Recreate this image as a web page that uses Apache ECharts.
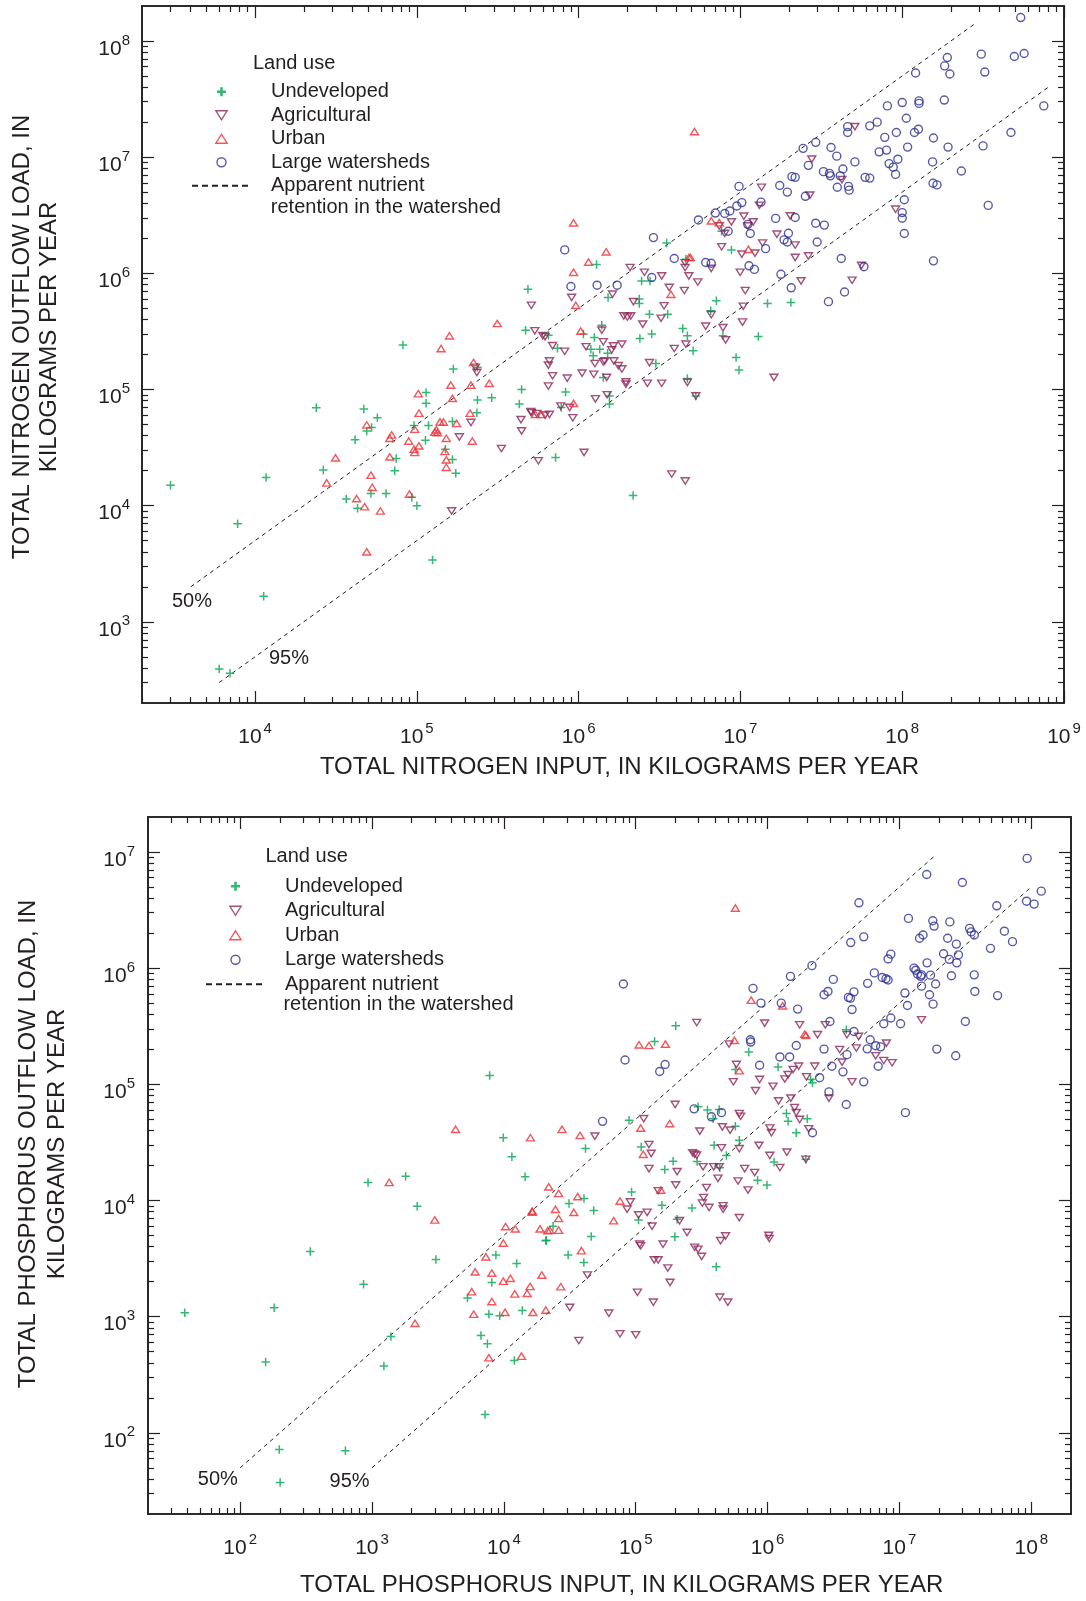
<!DOCTYPE html>
<html>
<head>
<meta charset="utf-8">
<script src="https://cdn.jsdelivr.net/npm/echarts@6/dist/echarts.min.js"></script>
<style>
  html, body { margin: 0; padding: 0; background: #fff; }
  #chart { width: 1086px; height: 1601px; }
</style>
</head>
<body>
<div id="chart"></div>
<script>
// ---------------- Nitrogen: [total input, total outflow load], kg per year ----------------
const nUndeveloped = [
  [3.0e3,1.5e4],[7.8e3,7.0e3],[1.17e4,1.75e4],[1.13e4,1.66e3],[6.0e3,392],[7.0e3,361],
  [2.39e4,6.95e4],[2.64e4,2.03e4],[4.7e4,6.8e4],[5.7e4,5.7e4],[5.25e4,4.7e4],[4.9e4,4.4e4],
  [4.15e4,3.7e4],[3.66e4,1.14e4],[4.3e4,9.5e3],[5.2e4,1.27e4],[6.45e4,1.27e4],[7.3e4,2.0e4],
  [7.45e4,2.55e4],[9.3e4,1.18e4],[1.0e5,1.0e4],[9.6e4,4.9e4],[1.14e5,9.4e4],[1.14e5,7.6e4],
  [1.18e5,4.9e4],[1.13e5,3.66e4],[1.25e5,3.4e3],[1.5e5,3.06e4],[1.66e5,2.5e4],[1.74e5,1.9e4],
  [1.66e5,5.3e4],[2.37e5,8.1e4],[2.35e5,6.3e4],[2.9e5,8.5e4],[4.44e5,1.0e5],[4.3e5,7.5e4],
  [8.2e4,2.42e5],[1.68e5,1.5e5],[2.37e5,1.55e5],[4.86e5,7.3e5],[4.7e5,3.24e5],[1.29e6,1.19e6],
  [6.5e5,2.93e5],[1.07e6,3.0e5],[1.39e6,3.57e5],[1.25e6,2.8e5],[1.19e6,2.22e5],[1.35e6,2.22e5],
  [1.51e6,2.05e5],[1.23e6,1.95e5],[1.42e6,1.27e5],[7.4e5,2.26e5],[8.3e5,9.5e4],[7.2e5,2.6e4],
  [7.8e5,7.0e4],[3.5e6,1.82e6],[7.65e6,2.3e6],[8.8e6,1.59e6],[2.45e6,8.6e5],[2.76e6,8.6e5],
  [1.52e6,6.2e5],[2.37e6,6.0e5],[2.37e6,5.5e5],[2.74e6,4.45e5],[3.55e6,4.45e5],[4.4e6,3.35e5],
  [4.7e6,2.9e5],[5.1e6,2.15e5],[2.83e6,3.0e5],[2.39e6,2.75e5],[3.0e6,1.67e5],[4.7e6,1.24e5],
  [5.3e6,8.8e4],[1.55e6,8.8e4],[1.55e6,7.5e4],[4.6e6,1.32e6],[1.47e7,5.5e5],[2.05e7,5.6e5],
  [1.29e7,2.86e5],[7.8e6,2.9e5],[9.4e6,1.88e5],[9.8e6,1.47e5],[7.1e6,5.8e5],[6.55e6,4.75e5],
  [2.17e6,1.22e4]
];
const nAgricultural = [
  [1.83e5,3.9e4],[2.16e5,5.2e4],[1.64e5,9.0e3],[3.33e5,3.1e4],[4.4e5,5.5e4],[4.44e5,4.4e4],
  [5.1e5,6.3e4],[5.64e5,2.43e4],[5.5e5,6.2e4],[6.2e5,6.0e4],[2.3e5,1.55e5],[2.35e5,1.4e5],
  [5.1e5,5.3e5],[5.36e5,3.2e5],[6.0e5,2.9e5],[6.2e5,2.85e5],[9.05e5,6.2e5],[1.39e6,3.24e5],
  [1.11e6,2.33e5],[1.42e6,2.57e5],[1.26e6,1.67e5],[1.42e6,1.73e5],[1.49e6,1.27e5],[1.24e6,1.35e5],
  [1.05e6,1.38e5],[6.9e5,2.38e5],[8.2e5,2.13e5],[6.6e5,1.76e5],[6.5e5,1.62e5],[6.9e5,1.31e5],
  [8.5e5,1.25e5],[6.5e5,1.07e5],[5.07e5,6.45e4],[6.6e5,6.1e4],[1.08e6,2.87e4],[7.75e5,7.2e4],
  [8.8e5,7.0e4],[9.2e5,5.7e4],[7.4e6,2.56e6],[8.8e6,2.77e6],[8.0e6,2.2e6],[1.35e7,5.5e6],
  [1.31e7,3.85e6],[1.05e7,3.1e6],[1.2e7,2.77e6],[1.11e7,2.56e6],[1.02e7,1.46e6],[1.23e7,1.49e6],
  [1.37e7,1.82e6],[7.65e6,1.69e6],[1.68e7,2.17e6],[2.18e7,1.75e6],[2.03e7,3.12e6],[2.18e7,1.37e6],
  [2.63e7,1.41e6],[2.69e7,4.7e6],[2.76e7,9.6e6],[4.24e7,6.4e6],[5.1e7,1.83e7],[5.6e7,1.17e6],
  [4.9e7,8.7e5],[2.37e7,8.6e5],[9.96e6,1.02e6],[1.07e7,7.1e5],[1.04e7,5.2e5],[1.03e7,3.8e5],
  [7.8e6,3.4e5],[8.1e6,2.67e5],[1.61e7,1.27e5],[6.6e6,4.4e5],[6.1e6,3.5e5],[4.5e6,7.1e5],
  [3.63e6,7.55e5],[4.8e6,9.5e5],[5.45e6,8.4e5],[4.55e6,1.23e6],[4.55e6,1.12e6],[6.6e6,1.1e6],
  [3.26e6,9.5e5],[2.55e6,1.02e6],[2.08e6,1.12e6],[1.62e6,6.6e5],[2.18e6,5.7e5],[3.37e6,5.25e5],
  [3.23e6,4.1e5],[1.9e6,4.3e5],[2.0e6,4.2e5],[2.1e6,4.3e5],[2.49e6,3.65e5],[4.6e6,2.45e5],
  [3.9e6,2.25e5],[1.85e6,2.45e5],[1.64e6,2.37e5],[1.6e6,2.19e5],[2.74e6,1.7e5],[1.85e6,1.5e5],
  [1.76e6,1.6e5],[1.45e6,1.76e5],[1.65e6,1.76e5],[1.96e6,1.16e5],[1.96e6,1.11e5],[2.66e6,1.13e5],
  [3.26e6,1.13e5],[4.7e6,1.15e5],[5.3e6,8.8e4],[1.5e6,9.0e4],[1.27e6,8.3e4],[3.76e6,1.87e4],
  [4.56e6,1.63e4],[9.1e7,3.56e6]
];
const nUrban = [
  [3.14e4,2.58e4],[2.77e4,1.57e4],[4.9e4,4.95e4],[6.98e4,4.06e4],[6.8e4,3.8e4],[8.9e4,3.6e4],
  [6.8e4,2.63e4],[1.02e5,9.2e4],[1.03e5,6.25e4],[9.7e4,4.55e4],[9.6e4,3.06e4],[9.7e4,2.87e4],
  [1.03e5,3.27e4],[4.24e4,1.15e4],[4.75e4,9.8e3],[5.95e4,9.0e3],[5.2e4,1.83e4],[5.3e4,1.44e4],
  [4.9e4,4.0e3],[9.0e4,1.26e4],[1.32e5,4.5e4],[1.39e5,5.26e4],[1.46e5,5.25e4],[1.29e5,4.3e4],
  [1.34e5,4.26e4],[1.52e5,3.8e4],[1.49e5,2.93e4],[1.52e5,2.48e4],[1.52e5,2.14e4],[1.62e5,1.09e5],
  [1.66e5,8.4e4],[1.76e5,5.1e4],[2.16e5,1.09e5],[2.13e5,6.25e4],[2.2e5,3.6e4],[2.8e5,1.13e5],
  [1.59e5,2.9e5],[1.41e5,2.25e5],[2.24e5,1.71e5],[3.14e5,3.7e5],[9.3e5,2.72e6],[1.48e6,1.53e6],
  [1.15e6,1.25e6],[9.3e5,1.02e6],[9.6e5,5.3e5],[1.03e6,3.18e5],[5.4e5,6.1e4],[5.9e5,6.1e4],
  [9.3e5,7.6e4],[5.2e6,1.66e7],[6.6e6,2.83e6],[7.4e6,2.73e6],[1.12e7,1.61e6],[3.72e6,6.6e5],
  [4.8e6,1.37e6],[4.9e6,1.37e6]
];
const nLargeWatersheds = [
  [8.2e5,1.59e6],[8.96e5,7.7e5],[1.3e6,7.9e5],[2.9e6,2.03e6],[5.5e6,2.88e6],[7.0e6,3.3e6],
  [8.0e6,3.27e6],[8.6e6,3.44e6],[8.4e6,2.3e6],[9.5e6,3.8e6],[1.02e7,4.06e6],[9.8e6,5.6e6],
  [1.34e7,4.1e6],[1.11e7,2.64e6],[1.15e7,2.2e6],[1.43e7,1.63e6],[1.65e7,2.97e6],[1.98e7,2.21e6],
  [1.86e7,1.94e6],[1.95e7,1.86e6],[2.18e7,3.02e6],[2.98e7,1.86e6],[2.92e7,2.7e6],[3.3e7,2.6e6],
  [1.75e7,5.7e6],[1.95e7,5.0e6],[2.08e7,6.8e6],[2.18e7,6.7e6],[2.52e7,4.6e6],[2.44e7,1.19e7],
  [2.92e7,1.34e7],[2.63e7,8.5e6],[3.63e7,1.21e7],[3.94e7,1.02e7],[3.26e7,7.5e6],[3.55e7,7.25e6],
  [3.6e7,6.9e6],[4.3e7,7.9e6],[5.1e7,9.1e6],[4.65e7,5.6e6],[4.7e7,5.2e6],[3.97e7,5.5e6],
  [4.6e7,1.83e7],[4.6e7,1.63e7],[6.3e7,1.86e7],[7.0e7,2.0e7],[7.2e7,1.11e7],[5.9e7,6.7e6],
  [6.3e7,6.6e6],[4.2e7,1.34e6],[5.8e7,1.14e6],[4.4e7,6.9e5],[3.5e7,5.7e5],[2.06e7,7.5e5],
  [1.78e7,9.8e5],[1.13e7,1.16e6],[1.22e7,1.08e6],[6.1e6,1.24e6],[6.6e6,1.22e6],[3.9e6,1.34e6],
  [2.83e6,9.2e5],[1.73e6,7.9e5],[4.14e7,6.9e6],[5.4e8,1.59e8],[3.08e8,7.7e7],[4.93e8,7.35e7],
  [5.67e8,7.8e7],[1.9e8,7.2e7],[1.83e8,6.1e7],[1.97e8,5.2e7],[3.24e8,5.4e7],[1.21e8,5.3e7],
  [7.5e8,2.76e7],[1.82e8,3.1e7],[1.0e8,2.95e7],[1.27e8,3.05e7],[1.27e8,2.9e7],[8.1e7,2.76e7],
  [1.06e8,2.16e7],[9.2e7,1.63e7],[1.26e8,1.74e7],[1.19e8,1.63e7],[7.8e7,1.48e7],[1.56e8,1.46e7],
  [4.7e8,1.63e7],[1.08e8,1.22e7],[8.0e7,1.15e7],[1.92e8,1.22e7],[3.16e8,1.25e7],[9.4e7,9.6e6],
  [1.54e8,9.1e6],[8.3e7,8.8e6],[8.8e7,8.2e6],[9.1e7,7.1e6],[2.32e8,7.6e6],[1.55e8,5.96e6],
  [1.64e8,5.77e6],[3.4e8,3.84e6],[1.03e8,4.3e6],[1.0e8,3.33e6],[1.0e8,2.98e6],[1.03e8,2.2e6],
  [1.56e8,1.28e6]
];
// Apparent retention lines: outflow = 50 % and 5 % of input
const nRetention50 = [[4.0e3, 2.0e3], [2.8e8, 1.4e8]];
const nRetention95 = [[6.0e3, 3.0e2], [8.0e8, 4.0e7]];

// ---------------- Phosphorus: [total input, total outflow load], kg per year ----------------
const pUndeveloped = [
  [38,1.08e3],[181,1.19e3],[156,406],[340,3.64e3],[862,1.9e3],[2.2e3,8.9e3],[3.05e3,3.1e3],
  [1.39e3,673],[1.23e3,375],[198,72],[201,37.4],[628,70],[7.2e3,144],[5.3e3,1.45e3],
  [8.7e3,3.39e3],[8.1e3,1.97e3],[7.7e3,1.05e3],[9.3e3,1.02e3],[6.7e3,687],[7.5e3,583],
  [1.2e4,419],[1.25e4,2.87e3],[1.38e4,1.13e3],[2.08e4,4.5e3],[933,1.43e4],[1.8e3,1.62e4],
  [7.8e3,1.19e5],[9.9e3,3.47e4],[1.15e4,2.38e4],[1.45e4,1.6e4],[2.01e5,3.19e5],[1.39e5,2.34e5],
  [2.97e5,6.4e4],[8.9e4,4.9e4],[4.16e4,2.8e4],[1.1e5,2.88e4],[1.66e5,1.85e4],[1.92e5,2.18e4],
  [2.92e5,2.16e4],[4.05e4,1.04e4],[3.12e4,9.4e3],[4.8e4,8.2e3],[9.3e4,1.18e4],[1.58e5,9.1e3],
  [1.05e5,6.8e3],[2.06e5,6.9e3],[2.67e5,8.6e3],[2.36e4,6.0e3],[2.1e4,4.55e3],[4.6e4,4.9e3],
  [1.98e5,4.86e3],[3.07e4,3.4e3],[4.04e4,2.93e3],[4.08e5,2.69e3],[3.95e6,2.95e5],[5.7e5,1.34e5],
  [7.2e5,1.9e5],[1.2e6,1.41e5],[2.19e6,1.03e5],[2.12e6,1.1e5],[3.5e5,6.0e4],[4.3e5,6.07e4],
  [3.86e5,5.05e4],[1.39e6,5.6e4],[1.43e6,4.8e4],[2.0e6,5.05e4],[1.65e6,3.83e4],[5.7e5,4.36e4],
  [6.1e5,3.3e4],[3.93e5,2.99e4],[4.87e5,2.44e4],[1.95e6,2.26e4],[1.12e6,2.14e4],[4.34e5,1.91e4],
  [8.4e5,1.49e4],[9.9e5,1.36e4]
];
const pAgricultural = [
  [2.9e5,3.4e5],[1.99e5,6.7e4],[1.15e5,5.05e4],[4.9e4,3.58e4],[1.26e5,3.03e4],[1.31e5,2.54e4],
  [1.26e5,1.88e4],[2.06e5,1.77e4],[2.01e5,1.36e4],[2.7e5,2.57e4],[2.8e5,2.5e4],[2.9e5,2.45e4],
  [9.1e4,9.7e3],[8.6e4,8.4e3],[1.48e5,1.21e4],[1.05e5,7.5e3],[1.22e5,7.9e3],[1.33e5,6.0e3],
  [1.61e5,4.2e3],[1.07e5,4.2e3],[1.09e5,4.07e3],[2.45e5,5.3e3],[2.8e5,3.95e3],[2.97e5,3.8e3],
  [4.3e4,2.28e3],[1.38e5,3.08e3],[1.48e5,3.08e3],[1.75e5,2.62e3],[1.82e5,1.97e3],[1.03e5,1.62e3],
  [1.36e5,1.33e3],[3.16e4,1.2e3],[6.25e4,1.07e3],[1.02e6,5.0e3],[1.03e6,4.7e3],[6.1e5,7.1e3],
  [4.8e5,4.95e3],[4.4e5,4.5e3],[4.6e5,9.0e3],[4.6e5,8.4e3],[3.6e5,8.7e3],[3.2e5,9.5e3],
  [2.15e5,6.7e3],[3.16e5,3.3e3],[4.34e5,1.47e3],[4.99e5,1.33e3],[7.6e4,711],[1.0e5,697],
  [3.7e4,622],[9.5e5,3.36e5],[1.75e6,3.25e5],[2.74e6,3.25e5],[2.39e6,2.67e5],[4.0e6,2.67e5],
  [4.9e6,2.58e5],[4.71e6,2.05e5],[7.96e6,2.26e5],[6.6e6,1.76e5],[7.6e6,1.6e5],[8.8e6,1.53e5],
  [3.67e6,1.55e5],[3.52e6,1.99e5],[1.97e6,1.16e5],[4.37e6,1.05e5],[2.92e6,7.6e4],[1.1e6,9.6e4],
  [8.7e5,1.1e5],[8.1e5,8.8e4],[5.5e5,1.05e5],[5.8e5,1.48e5],[5.1e5,2.22e5],[1.35e6,1.11e5],
  [1.43e6,1.21e5],[1.56e6,1.34e5],[1.72e6,1.43e5],[2.28e6,1.43e5],[1.21e6,7.2e4],[1.5e6,7.6e4],
  [1.6e6,6.3e4],[1.65e6,5.7e4],[1.75e6,4.98e4],[2.05e6,4.14e4],[1.04e6,4.2e4],[1.07e6,3.83e4],
  [6.1e5,5.6e4],[6.25e5,5.3e4],[3.06e5,3.95e4],[4.54e5,4.3e4],[5.2e5,4.03e4],[4.47e5,2.84e4],
  [6.1e5,2.79e4],[8.6e5,2.98e4],[1.04e6,2.44e4],[1.4e6,2.6e4],[1.95e6,2.26e4],[1.24e6,1.92e4],
  [3.24e5,1.95e4],[3.9e5,1.95e4],[4.3e5,1.95e4],[6.7e5,1.88e4],[5.97e5,1.47e4],[7.1e5,1.23e4],
  [7.98e5,1.74e4],[4.2e5,1.55e4],[3.44e5,1.29e4],[3.27e5,1.06e4],[1.47e7,3.59e5]
];
const pUrban = [
  [2.99e3,6.8e3],[2.12e3,877],[5.7e3,1.64e3],[5.9e3,1.05e3],[6.05e3,2.43e3],[7.3e3,3.27e3],
  [8.1e3,2.37e3],[8.1e3,1.35e3],[7.7e3,443],[1.36e4,457],[9.9e3,2.02e3],[1.12e4,2.14e3],
  [9.9e3,4.3e3],[1.03e4,5.97e3],[1.22e4,5.7e3],[1.64e4,7.96e3],[1.21e4,1.57e3],[1.02e4,1.09e3],
  [1.5e4,1.59e3],[1.58e4,1.82e3],[1.94e4,2.28e3],[1.66e4,1.09e3],[1.88e4,5.7e3],[2.15e4,5.5e3],
  [2.08e4,1.14e3],[1.35e3,1.43e4],[1.06e5,2.19e5],[1.26e5,2.16e5],[1.68e5,2.22e5],[1.09e5,4.2e4],
  [1.81e5,4.6e4],[4.3e3,4.1e4],[1.59e4,3.47e4],[2.76e4,4.1e4],[3.78e4,3.63e4],[1.14e5,2.5e4],
  [2.19e4,1.31e4],[2.6e4,1.15e4],[3.63e4,1.08e4],[1.64e4,8.1e3],[2.46e4,8.4e3],[3.39e4,7.9e3],
  [2.6e4,7.0e3],[7.6e4,9.9e3],[1.55e5,1.23e4],[6.8e4,6.7e3],[2.23e4,5.55e3],[2.6e4,5.55e3],
  [3.87e4,3.7e3],[2.7e4,1.81e3],[5.7e5,3.29e6],[7.5e5,5.3e5],[1.3e6,4.74e5],[1.91e6,2.7e5],
  [1.95e6,2.64e5],[5.6e5,2.39e5],[6.1e5,1.31e5]
];
const pLargeWatersheds = [
  [8.3e4,1.62e5],[1.67e5,1.48e5],[1.52e5,1.29e5],[2.77e5,6.15e4],[5.6e4,4.8e4],[8.06e4,7.3e5],
  [4.93e6,3.65e6],[1.17e7,2.68e6],[1.79e7,2.56e6],[1.83e7,2.3e6],[1.42e7,1.81e6],[1.51e7,1.93e6],
  [4.27e6,1.66e6],[5.36e6,1.86e6],[8.2e6,1.2e6],[8.6e6,1.32e6],[1.62e7,1.11e6],[1.29e7,1.0e6],
  [1.33e7,9.6e5],[1.37e7,8.9e5],[1.45e7,8.5e5],[1.72e7,8.7e5],[1.88e7,7.3e5],[1.47e7,7.0e5],
  [1.69e7,5.9e5],[1.8e7,4.9e5],[1.1e7,6.1e5],[1.15e7,4.77e5],[6.45e6,9.1e5],[7.4e6,8.3e5],
  [7.9e6,8.1e5],[8.2e6,7.9e5],[5.74e6,7.4e5],[3.15e6,8.0e5],[2.17e6,1.05e6],[1.49e6,8.5e5],
  [2.87e6,6.3e5],[2.68e6,5.9e5],[4.52e6,6.25e5],[4.1e6,5.6e5],[4.25e6,5.5e5],[4.37e6,4.4e5],
  [7.6e6,3.32e5],[8.6e6,3.72e5],[1.02e7,3.32e5],[1.92e7,2.01e5],[8.9e5,5.0e5],[7.75e5,6.7e5],
  [1.27e6,5.0e5],[1.69e6,4.44e5],[2.97e6,3.47e5],[4.52e6,2.85e5],[6.0e6,2.42e5],[6.6e6,2.15e5],
  [7.2e6,2.1e5],[5.7e6,2.02e5],[6.9e6,1.43e5],[4.0e6,1.8e5],[3.07e6,1.43e5],[3.73e6,1.28e5],
  [2.68e6,2.01e5],[1.65e6,2.16e5],[1.24e6,1.72e5],[1.47e6,1.72e5],[5.36e6,1.05e5],[1.11e7,5.7e4],
  [3.95e6,6.7e4],[2.92e6,8.6e4],[2.48e6,1.14e5],[8.7e5,1.46e5],[7.4e5,2.42e5],[7.45e5,2.31e5],
  [3.75e5,5.25e4],[4.47e5,5.7e4],[2.19e6,3.83e4],[9.3e7,8.8e6],[1.61e7,6.4e6],[3.0e7,5.46e6],
  [1.19e8,4.6e6],[9.2e7,3.77e6],[1.05e8,3.56e6],[5.47e7,3.44e6],[2.41e7,2.5e6],[3.4e7,2.2e6],
  [3.7e7,1.93e6],[3.5e7,2.05e6],[6.25e7,2.08e6],[7.2e7,1.69e6],[4.9e7,1.48e6],[2.32e7,1.81e6],
  [2.7e7,1.61e6],[2.16e7,1.33e6],[2.39e7,1.19e6],[2.8e7,1.3e6],[2.72e7,1.11e6],[3.69e7,8.75e5],
  [3.73e7,6.3e5],[2.48e7,8.6e5],[5.55e7,5.8e5],[3.16e7,3.47e5],[2.67e7,1.76e5],[1.47e7,8.75e5]
];
const pRetention50 = [[1.0e2, 50], [1.9e7, 9.5e6]];
const pRetention95 = [[1.0e3, 50], [1.0e8, 5.0e6]];

// Axis extents and labelled decades
const nInputRange = [2e3, 1e9];
const nOutflowRange = [2e2, 2e8];
const pInputRange = [20, 2e8];
const pOutflowRange = [20, 2e7];
const decades = [10, 1e2, 1e3, 1e4, 1e5, 1e6, 1e7, 1e8, 1e9];

const RETENTION = 'Apparent nutrient retention in the watershed';
const INK = '#231f20';
const FONT = '"Liberation Sans", Arial, Helvetica, sans-serif';
const COLORS = { undeveloped: '#00a651', agricultural: '#8c2457', urban: '#ee2d33', large: '#2e3192' };
const SYMBOLS = {
  plus: 'path://M5,0L5,10M0,5L10,5',
  down: 'path://M0,0L10,0L5,8Z',
  up: 'path://M5,0L10,8L0,8Z'
};

function majorsIn(r) { return decades.filter(d => d >= r[0] * 0.9999 && d <= r[1] * 1.0001); }
function minorsIn(r) {
  const out = [];
  decades.forEach(d => { for (let m = 2; m <= 9; m++) { const v = d * m; if (v > r[0] * 1.0001 && v < r[1] * 0.9999) out.push(v); } });
  return out;
}

const pow10Label = v => '{a|10}{e|' + Math.round(Math.log10(v)) + '}';
function richLabel(isX, margin) {
  return {
    show: true, margin, formatter: pow10Label, color: INK,
    padding: isX ? 0 : [16, 0, 0, 0],
    rich: {
      a: { fontSize: 21, lineHeight: 32, fontFamily: FONT, color: INK },
      e: { fontSize: 15, lineHeight: 15, verticalAlign: 'top', fontFamily: FONT, color: INK, padding: [0, 0, 0, isX ? 2 : 0] }
    }
  };
}

// Four axes per dimension: labelled side (major, minor ticks) and mirrored side (major, minor ticks)
function axesFor(dim, gridIndex, range, margin) {
  const sides = dim === 'x' ? ['bottom', 'top'] : ['left', 'right'];
  const majors = majorsIn(range), minors = minorsIn(range);
  const base = {
    type: 'log', logBase: 10, gridIndex, min: range[0], max: range[1],
    splitLine: { show: false }, splitArea: { show: false },
    axisLine: { show: true, onZero: false, lineStyle: { color: INK, width: 1.6 } }
  };
  const tick = (vals, len) => ({ show: true, inside: true, length: len, customValues: vals, lineStyle: { color: INK, width: 1.2 } });
  const hidden = { show: false };
  return [
    Object.assign({}, base, { position: sides[0], axisTick: tick(majors, 12), axisLabel: Object.assign(richLabel(dim === 'x', margin), { customValues: majors }) }),
    Object.assign({}, base, { position: sides[0], axisTick: tick(minors, 6), axisLabel: hidden }),
    Object.assign({}, base, { position: sides[1], axisTick: tick(majors, 12), axisLabel: hidden }),
    Object.assign({}, base, { position: sides[1], axisTick: tick(minors, 6), axisLabel: hidden })
  ];
}

function scatter(name, data, gi, symbol, color, size, bw) {
  return {
    type: 'scatter', name, data, xAxisIndex: gi * 4, yAxisIndex: gi * 4,
    symbol, symbolSize: size, symbolKeepAspect: true, silent: true,
    itemStyle: { color: 'rgba(0,0,0,0)', borderColor: color, borderWidth: bw },
    emphasis: { disabled: true }
  };
}
function retention(data, gi) {
  return {
    type: 'line', name: RETENTION, data, xAxisIndex: gi * 4, yAxisIndex: gi * 4,
    symbol: 'none', silent: true, z: 1, color: INK,
    lineStyle: { color: INK, width: 1, type: [4, 4] }
  };
}
function panelSeries(gi, und, agr, urb, lrg, r50, r95) {
  return [
    retention(r50, gi), retention(r95, gi),
    scatter('Undeveloped', und, gi, SYMBOLS.plus, COLORS.undeveloped, 8.5, 1.5),
    scatter('Agricultural', agr, gi, SYMBOLS.down, COLORS.agricultural, 8, 1.4),
    scatter('Urban', urb, gi, SYMBOLS.up, COLORS.urban, 8, 1.4),
    scatter('Large watersheds', lrg, gi, 'circle', COLORS.large, 8, 1.4)
  ];
}

function legendAt(left, top, lineHeight) {
  return {
    orient: 'vertical', left, top, padding: 0, itemGap: 0, itemWidth: 59, itemHeight: 9,
    selectedMode: false,
    data: [
      { name: 'Undeveloped', itemStyle: { borderWidth: 2.6 } },
      { name: 'Agricultural' }, { name: 'Urban' }, { name: 'Large watersheds' },
      { name: RETENTION, itemStyle: { color: 'rgba(0,0,0,0)', borderColor: 'rgba(0,0,0,0)', borderWidth: 0 } }
    ],
    formatter: n => (n === RETENTION ? 'Apparent nutrient' : n),
    itemStyle: { borderWidth: 1.4 },
    lineStyle: { width: 2, type: [6, 4], color: INK },
    textStyle: { fontSize: 20, color: INK, fontFamily: FONT, lineHeight, padding: [0, 0, 0, 15] }
  };
}

function txt(text, x, y, opts) {
  const o = opts || {};
  return {
    type: 'text', x, y, rotation: o.rotation || 0, silent: true,
    style: {
      text, fill: INK, font: (o.size || 20) + 'px ' + FONT, fontSize: o.size || 20, fontFamily: FONT,
      textAlign: o.align || 'left', textVerticalAlign: 'middle', align: o.align || 'left', verticalAlign: 'middle',
      lineHeight: o.lineHeight
    }
  };
}

const chart = echarts.init(document.getElementById('chart'), null, { renderer: 'canvas' });
chart.setOption({
  animation: false,
  backgroundColor: '#ffffff',
  textStyle: { fontFamily: FONT, color: INK },
  grid: [
    { left: 142, top: 6, width: 922, height: 697 },
    { left: 148, top: 817, width: 923, height: 697 }
  ],
  xAxis: [].concat(axesFor('x', 0, nInputRange, 18.5), axesFor('x', 1, pInputRange, 18.5)),
  yAxis: [].concat(axesFor('y', 0, nOutflowRange, 12), axesFor('y', 1, pOutflowRange, 13)),
  legend: [legendAt(191, 80, 23.5), legendAt(205, 874, 24.5)],
  series: [].concat(
    panelSeries(0, nUndeveloped, nAgricultural, nUrban, nLargeWatersheds, nRetention50, nRetention95),
    panelSeries(1, pUndeveloped, pAgricultural, pUrban, pLargeWatersheds, pRetention50, pRetention95)
  ),
  graphic: [
    txt('Land use', 253, 63.3),
    txt('retention in the watershed', 270.8, 207.3),
    txt('50%', 192, 601, { align: 'center' }),
    txt('95%', 289, 658, { align: 'center' }),
    txt('TOTAL NITROGEN INPUT, IN KILOGRAMS PER YEAR', 619.5, 767, { align: 'center', size: 24 }),
    txt('TOTAL NITROGEN OUTFLOW LOAD, IN\nKILOGRAMS PER YEAR', 35.7, 337, { align: 'center', size: 24, rotation: Math.PI / 2, lineHeight: 26.5 }),
    txt('Land use', 265.5, 856.7),
    txt('retention in the watershed', 283.4, 1004),
    txt('50%', 217.8, 1479, { align: 'center' }),
    txt('95%', 349.6, 1481, { align: 'center' }),
    txt('TOTAL PHOSPHORUS INPUT, IN KILOGRAMS PER YEAR', 621.6, 1585, { align: 'center', size: 24 }),
    txt('TOTAL PHOSPHORUS OUTFLOW LOAD, IN\nKILOGRAMS PER YEAR', 42.9, 1144, { align: 'center', size: 24, rotation: Math.PI / 2, lineHeight: 28.6 })
  ]
});
</script>
</body>
</html>
